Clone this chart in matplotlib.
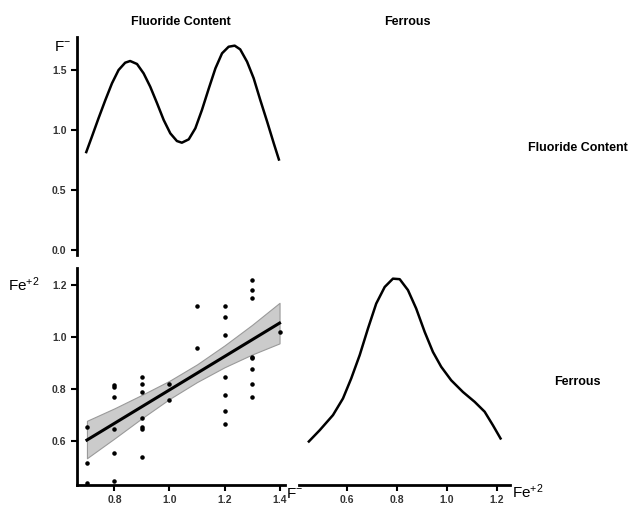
import numpy as np
import matplotlib
matplotlib.use('Agg')
import matplotlib.pyplot as plt

plt.rcParams['font.family'] = ['Liberation Sans', 'DejaVu Sans']

# scatter data: fluoride (F-) vs ferrous (Fe+2)
fluoride = [0.7, 0.7, 0.7,
            0.8, 0.8, 0.8, 0.8, 0.8, 0.8,
            0.9, 0.9, 0.9, 0.9, 0.9, 0.9, 0.9,
            1.0, 1.0,
            1.1, 1.1,
            1.2, 1.2, 1.2, 1.2, 1.2, 1.2, 1.2,
            1.3, 1.3, 1.3, 1.3, 1.3, 1.3, 1.3, 1.3,
            1.4]
ferrous = [0.655, 0.515, 0.436,
           0.815, 0.808, 0.767, 0.645, 0.555, 0.446,
           0.847, 0.818, 0.786, 0.687, 0.654, 0.645, 0.536,
           0.818, 0.756,
           1.119, 0.956,
           1.119, 1.077, 1.008, 0.847, 0.777, 0.715, 0.665,
           1.219, 1.179, 1.149, 0.924, 0.917, 0.878, 0.818, 0.767,
           1.019]

# fitted line and its confidence band
fit_x = [0.7, 1.4]
fit_y = [0.603, 1.053]
band_x = [0.7, 0.8, 0.9, 1.0, 1.1, 1.2, 1.3, 1.4]
band_lo = [0.533, 0.609, 0.687, 0.761, 0.826, 0.883, 0.932, 0.975]
band_hi = [0.677, 0.725, 0.777, 0.831, 0.894, 0.967, 1.046, 1.131]

# diagonal density curves
f_dens_x = [0.696, 0.718, 0.742, 0.767, 0.791, 0.815, 0.839, 0.857, 0.882, 0.906,
            0.930, 0.955, 0.979, 1.003, 1.027, 1.045, 1.070, 1.094, 1.118, 1.143,
            1.167, 1.191, 1.215, 1.237, 1.257, 1.282, 1.306, 1.330, 1.355, 1.379,
            1.399]
f_dens_y = [0.806, 0.944, 1.097, 1.250, 1.389, 1.500, 1.561, 1.575, 1.550, 1.472,
            1.361, 1.222, 1.083, 0.972, 0.908, 0.894, 0.922, 1.014, 1.167, 1.347,
            1.514, 1.639, 1.694, 1.703, 1.672, 1.569, 1.431, 1.250, 1.069, 0.889,
            0.744]

fe_dens_x = [0.444, 0.491, 0.544, 0.584, 0.617, 0.651, 0.684, 0.717, 0.751, 0.784,
             0.811, 0.844, 0.877, 0.911, 0.944, 0.977, 1.017, 1.064, 1.111, 1.151,
             1.184, 1.217]
fe_dens_y = [0.594, 0.641, 0.699, 0.763, 0.840, 0.930, 1.032, 1.128, 1.192, 1.224,
             1.222, 1.180, 1.109, 1.019, 0.942, 0.885, 0.833, 0.788, 0.750, 0.712,
             0.660, 0.605]

fig = plt.figure(figsize=(6.43, 5.14), dpi=100)
ax_tl = fig.add_axes([0.1198, 0.5039, 0.3235, 0.4241])
ax_bl = fig.add_axes([0.1198, 0.0564, 0.3235, 0.4222])
ax_br = fig.add_axes([0.465, 0.0564, 0.328, 0.4222])

def style(ax, left=True, bottom=True):
    for s in ['top', 'right']:
        ax.spines[s].set_visible(False)
    ax.spines['left'].set_visible(left)
    ax.spines['bottom'].set_visible(bottom)
    for s in ['left', 'bottom']:
        ax.spines[s].set_linewidth(2)
    ax.tick_params(width=1.5, length=4, color='black', labelsize=7.5, labelcolor='#333333')
    for lab in ax.get_xticklabels() + ax.get_yticklabels():
        lab.set_fontweight('bold')

# top-left: fluoride density
ax_tl.plot(f_dens_x, f_dens_y, color='black', lw=1.8, solid_capstyle='butt')
ax_tl.set_xlim(0.664, 1.42)
ax_tl.set_ylim(-0.042, 1.775)
ax_tl.set_yticks([0.0, 0.5, 1.0, 1.5])
ax_tl.set_xticks([])
style(ax_tl, bottom=False)

# bottom-left: scatter + linear fit with band
ax_bl.fill_between(band_x, band_lo, band_hi, color='#cbcbcb',
                   edgecolor='#9a9a9a', lw=0.8, zorder=1)
ax_bl.plot(fit_x, fit_y, color='black', lw=2.2, zorder=2)
ax_bl.scatter(fluoride, ferrous, s=5, color='black', zorder=3)
ax_bl.set_xlim(0.664, 1.42)
ax_bl.set_ylim(0.43, 1.265)
ax_bl.set_xticks([0.8, 1.0, 1.2, 1.4])
ax_bl.set_yticks([0.6, 0.8, 1.0, 1.2])
style(ax_bl)

# bottom-right: ferrous density
ax_br.plot(fe_dens_x, fe_dens_y, color='black', lw=1.8, solid_capstyle='butt')
ax_br.set_xlim(0.408, 1.252)
ax_br.set_ylim(0.43, 1.265)
ax_br.set_xticks([0.6, 0.8, 1.0, 1.2])
ax_br.set_yticks([])
style(ax_br, left=False)

# titles and labels
fig.text(181 / 643, 1 - 22 / 514, 'Fluoride Content', ha='center', va='center',
         fontsize=9, fontweight='bold')
fig.text(407 / 643, 1 - 22 / 514, 'Ferrous', ha='center', va='center',
         fontsize=9, fontweight='bold')
fig.text(578 / 643, 1 - 148 / 514, 'Fluoride Content', ha='center', va='center',
         fontsize=9, fontweight='bold')
fig.text(577 / 643, 1 - 382 / 514, 'Ferrous', ha='center', va='center',
         fontsize=9, fontweight='bold')

f_lab = r'$\mathregular{F^{-}}$'
fe_lab = r'$\mathregular{Fe^{+2}}$'
fig.text(63 / 643, 1 - 47 / 514, f_lab, ha='center', va='center', fontsize=11)
fig.text(24 / 643, 1 - 285 / 514, fe_lab, ha='center', va='center', fontsize=11)
fig.text(295 / 643, 1 - 494 / 514, f_lab, ha='center', va='center', fontsize=11)
fig.text(528 / 643, 1 - 492 / 514, fe_lab, ha='center', va='center', fontsize=11)

fig.savefig('out.png', dpi=100, facecolor='white')
